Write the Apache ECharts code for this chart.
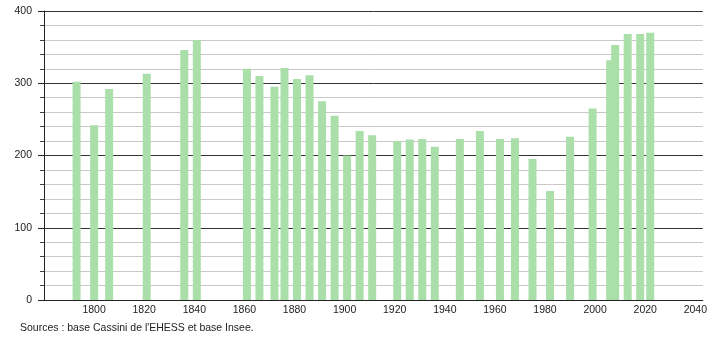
<!DOCTYPE html>
<html>
<head>
<meta charset="utf-8">
<script src="https://cdn.jsdelivr.net/npm/echarts@6/dist/echarts.min.js"></script>
<style>html,body{margin:0;padding:0;background:#fff;}#c{width:710px;height:340px;}</style>
</head>
<body>
<div id="c"></div>
<script>
var years = [1793,1800,1806,1821,1836,1841,1861,1866,1872,1876,1881,1886,1891,1896,1901,1906,1911,1921,1926,1931,1936,1946,1954,1962,1968,1975,1982,1990,1999,2006,2008,2013,2018,2022];
var population = [302,242,292,313,346,360,320,310,295,321,306,311,275,255,200,234,228,220,222,223,212,223,234,223,224,195,151,226,265,332,353,368,368,370];
var yTicks = [0,100,200,300,400];
var xTicks = [1800,1820,1840,1860,1880,1900,1920,1940,1960,1980,2000,2020,2040];
var sourceText = "Sources : base Cassini de l'EHESS et base Insee.";

var chart = echarts.init(document.getElementById('c'), null, {renderer:'canvas'});
var data = years.map(function(y,i){return [y, population[i]];});
chart.setOption({
  animation:false,
  textStyle:{fontFamily:'Liberation Sans'},
  grid:{left:44,right:7,top:11,bottom:40,containLabel:false},
  xAxis:{
    type:'value', min:1780, max:2043, interval:20,
    axisLine:{show:true,onZero:false,lineStyle:{color:'#222',width:1}},
    axisTick:{show:false},
    splitLine:{show:false},
    axisLabel:{color:'#222',fontSize:10.5,margin:5,
      formatter:function(v){return xTicks.indexOf(v)>=0?String(v):'';}}
  },
  yAxis:{
    type:'value', min:0, max:400, interval:100,
    axisLine:{show:true,lineStyle:{color:'#222',width:1}},
    axisTick:{show:true,length:6,lineStyle:{color:'#222'}},
    minorTick:{show:true,splitNumber:5,length:4,lineStyle:{color:'#444'}},
    splitLine:{show:true,lineStyle:{color:'#333',width:1}},
    minorSplitLine:{show:true,lineStyle:{color:'#c8c8c8',width:1}},
    axisLabel:{color:'#222',fontSize:10.5,margin:12,
      formatter:function(v){return yTicks.indexOf(v)>=0?String(v):'';}}
  },
  series:[{
    type:'bar', data:data, barWidth:8,
    itemStyle:{color:'#aadfaa'}
  }],
  graphic:[{
    type:'text', left:20, top:323,
    style:{text:sourceText, fill:'#222', font:'10.5px "Liberation Sans"'}
  }]
});
</script>
</body>
</html>
